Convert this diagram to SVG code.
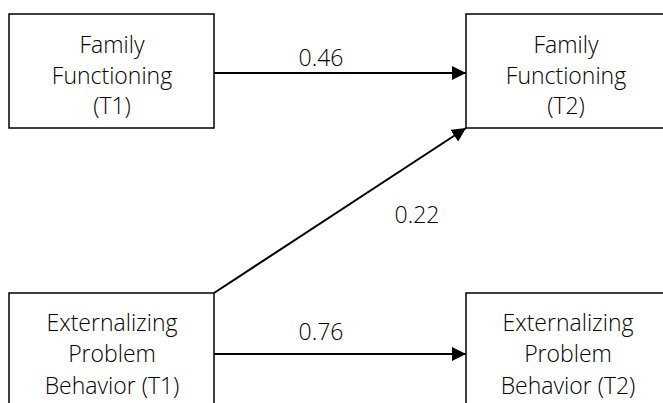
<svg xmlns="http://www.w3.org/2000/svg" width="663" height="403" viewBox="0 0 663 403">
  <style>
    .box { fill: #ffffff; stroke: #000000; stroke-width: 1.5; }
    .lbl { font-family: "Open Sans", "Liberation Sans", sans-serif; font-weight: 300; font-size: 23px; fill: #000000; text-anchor: middle; }
    .edge { stroke: #000000; stroke-width: 2; fill: none; marker-end: url(#arrow); }
  </style>
  <defs>
    <marker id="arrow" viewBox="0 0 10 10" refX="10" refY="5" markerWidth="7" markerHeight="7" markerUnits="strokeWidth" orient="auto">
      <path d="M0,0 L10,5 L0,10 Z" fill="#000000"/>
    </marker>
  </defs>
  <rect width="663" height="403" fill="#ffffff"/>

  <g id="connectors">
    <line class="edge" x1="214" y1="73" x2="466" y2="73"/>
    <line class="edge" x1="214" y1="293" x2="466" y2="128"/>
    <line class="edge" x1="214" y1="354" x2="466" y2="354"/>
    <text class="lbl" x="321" y="66">0.46</text>
    <text class="lbl" x="417" y="223">0.22</text>
    <text class="lbl" x="321" y="340">0.76</text>
  </g>

  <g id="ff-t1">
    <rect class="box" x="9" y="14" width="205" height="114"/>
    <text class="lbl" x="112" y="53">Family</text>
    <text class="lbl" x="112" y="84">Functioning</text>
    <text class="lbl" x="112" y="114">(T1)</text>
  </g>

  <g id="ff-t2">
    <rect class="box" x="466" y="14" width="205" height="114"/>
    <text class="lbl" x="566" y="53">Family</text>
    <text class="lbl" x="566" y="84">Functioning</text>
    <text class="lbl" x="566" y="114">(T2)</text>
  </g>

  <g id="epb-t1">
    <rect class="box" x="9" y="293" width="205" height="120"/>
    <text class="lbl" x="112" y="331">Externalizing</text>
    <text class="lbl" x="112" y="362">Problem</text>
    <text class="lbl" x="112" y="394">Behavior (T1)</text>
  </g>

  <g id="epb-t2">
    <rect class="box" x="466" y="293" width="205" height="120"/>
    <text class="lbl" x="568" y="331">Externalizing</text>
    <text class="lbl" x="568" y="362">Problem</text>
    <text class="lbl" x="568" y="394">Behavior (T2)</text>
  </g>
</svg>
